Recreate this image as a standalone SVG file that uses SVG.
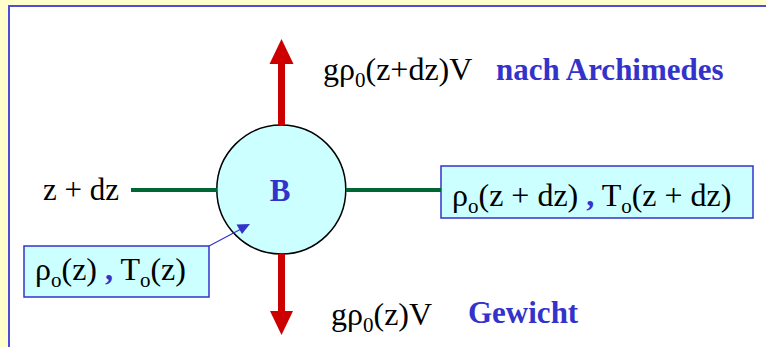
<svg xmlns="http://www.w3.org/2000/svg" width="766" height="347" viewBox="0 0 766 347">
<defs>
<style>
text{font-family:'Liberation Serif','DejaVu Serif',serif;font-size:31px}
.t{fill:#000;font-size:32px}
.b{font-weight:bold;fill:#3333CC}
.sub{font-size:21px}
.box{fill:#CCFFFF;stroke:#3333CC;stroke-width:1.5}
.green{stroke:#006633;stroke-width:4}
.red{stroke:#CC0000;stroke-width:7}
</style>
</defs>
<rect x="0" y="0" width="766" height="347" fill="#FFFFCC"/>
<rect x="9" y="6" width="770" height="360" fill="#FFFFFF" stroke="#4D4DD9" stroke-width="2"/>
<g id="node-B">
<circle cx="281.3" cy="189.5" r="64.5" fill="#CCFFFF" stroke="#000" stroke-width="1.5"/>
<text class="b" x="280" y="200.5" text-anchor="middle">B</text>
</g>
<g id="box-right">
<rect class="box" x="441" y="166" width="312" height="52"/>
<text class="t" x="452" y="206">ρ<tspan class="sub" dy="7">o</tspan><tspan dy="-7">(z + dz) </tspan><tspan class="b">,</tspan> T<tspan class="sub" dy="7">o</tspan><tspan dy="-7">(z + dz)</tspan></text>
</g>
<g id="box-left">
<rect class="box" x="24" y="246" width="185" height="51"/>
<text class="t" x="35" y="280">ρ<tspan class="sub" dy="7">o</tspan><tspan dy="-7">(z) </tspan><tspan class="b">,</tspan> T<tspan class="sub" dy="7">o</tspan><tspan dy="-7">(z)</tspan></text>
</g>
<g id="connectors">
<line class="green" x1="131" y1="190" x2="217" y2="190"/>
<line class="green" x1="346" y1="190" x2="441" y2="190"/>
<line class="red" x1="281.5" y1="62" x2="281.5" y2="125"/>
<path d="M269.5,64 L281.5,39 L293.5,64 z" fill="#CC0000"/>
<line class="red" x1="281.5" y1="254" x2="281.5" y2="312"/>
<path d="M270,311 L281.5,335 L293,311 z" fill="#CC0000"/>
<line x1="209" y1="246" x2="243" y2="228" stroke="#3333CC" stroke-width="1.2"/>
<path d="M250,224 L236.5,224.5 L242,234 z" fill="#3333CC"/>
</g>
<g id="label-zdz">
<text class="t" x="43" y="200" style="font-size:31px">z + dz</text>
</g>
<g id="label-top">
<text class="t" x="323" y="80">gρ<tspan class="sub" dy="7">0</tspan><tspan dy="-7">(z+dz)V</tspan></text>
<text class="b" x="496" y="80">nach Archimedes</text>
</g>
<g id="label-bottom">
<text class="t" x="331" y="325">gρ<tspan class="sub" dy="7">0</tspan><tspan dy="-7">(z)V</tspan></text>
<text class="b" x="468" y="323">Gewicht</text>
</g>
</svg>
